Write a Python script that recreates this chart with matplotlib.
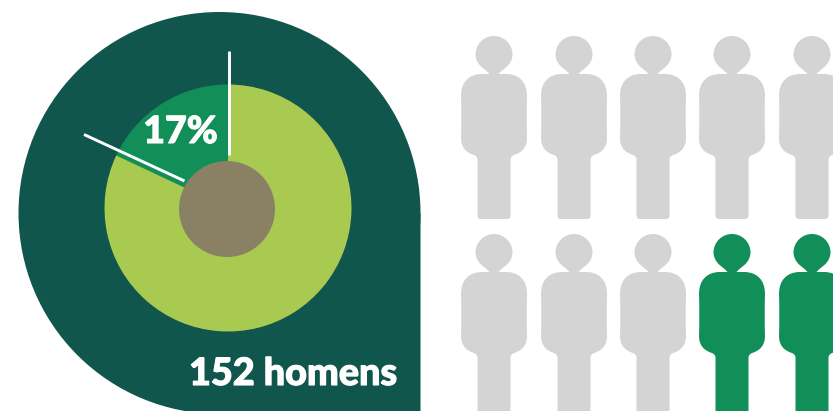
import matplotlib
matplotlib.use("Agg")
import matplotlib.pyplot as plt
import matplotlib.patheffects as pe
from matplotlib.path import Path
from matplotlib.patches import PathPatch, Circle, Rectangle

W, H = 833, 411

# Data
slice_labels = ["homens", "restante"]
slice_values = [18, 82]          # angular share as drawn
pct_label = "17%"
count_label = "152 homens"
row_top_highlight = [0, 0, 0, 0, 0]
row_bottom_highlight = [0, 0, 0, 1, 1]

# Styles
DARK, LIGHT, GREEN, BROWN, GREY = "#11564C", "#A9CA51", "#128F58", "#8A8165", "#D4D4D4"
FONT = ["Lato", "Open Sans", "DejaVu Sans"]

column_x = [494, 574, 653, 732, 812]
row_top_y = [36, 234]


def Y(py):
    return H - py


def person(cx, top):
    C4, CL, MT, LT = Path.CURVE4, Path.CLOSEPOLY, Path.MOVETO, Path.LINETO
    r = 18.5
    k = 0.5523 * r
    hc = 18.5
    verts, codes = [], []

    def add(x, y, code):
        verts.append((cx + x, Y(top + y)))
        codes.append(code)

    def curve(x1, y1, x2, y2, x3, y3):
        add(x1, y1, C4); add(x2, y2, C4); add(x3, y3, C4)

    # head (round, tapering only just above the neck)
    add(0, 0, MT)
    curve(k, 0, r, hc - k, r, hc)
    curve(r, hc + 5, 16, hc + 9, 13, hc + 12)
    curve(9.5, hc + 15, 5.5, hc + 17.5, 4, 39)
    add(-4, 39, LT)
    curve(-5.5, hc + 17.5, -9.5, hc + 15, -13, hc + 12)
    curve(-16, hc + 9, -r, hc + 5, -r, hc)
    curve(-r, hc - k, -k, 0, 0, 0)
    add(0, 0, CL)
    # torso with legs
    add(-12, 38, MT)
    add(12, 38, LT)
    curve(25, 38, 33, 46, 33, 60)
    curve(32.6, 72, 32.6, 90, 33, 102)
    curve(33, 112, 27, 117, 20, 119)
    curve(18, 120, 16.5, 121, 16.5, 124)
    add(16.5, 179, LT)
    curve(16.5, 182, 15, 183, 13, 183)
    add(-13, 183, LT)
    curve(-15, 183, -16.5, 182, -16.5, 179)
    add(-16.5, 124, LT)
    curve(-16.5, 121, -18, 120, -20, 119)
    curve(-27, 117, -33, 112, -33, 102)
    curve(-32.6, 90, -32.6, 72, -33, 60)
    curve(-33, 46, -25, 38, -12, 38)
    add(-12, 38, CL)
    return Path(verts, codes)


fig = plt.figure(figsize=(W / 100, H / 100), dpi=100, facecolor="white")
ax = fig.add_axes([0, 0, 1, 1])

# Drop-shaped backdrop
ax.add_patch(Circle((219.5, Y(213)), 201, fc=DARK, ec="none", zorder=1))
ax.add_patch(Rectangle((219.5, Y(415)), 201, 202, fc=DARK, ec="none", zorder=1, snap=False))

# Donut
ax.pie(slice_values, colors=[GREEN, LIGHT], startangle=90, counterclock=True,
       center=(228, Y(208)), radius=123.5,
       wedgeprops=dict(linewidth=0))
for w in ax.patches[-2:]:
    w.set_zorder(2)
ax.add_patch(Circle((227, Y(209)), 48, fc=BROWN, ec="none", zorder=3))

# Leader lines
ax.plot([229.5, 229.5], [Y(51), Y(155)], color="white", lw=2.1, zorder=4, solid_capstyle="butt")
ax.plot([84, 184.5], [Y(134.5), Y(181)], color="white", lw=2.1, zorder=4, solid_capstyle="butt")

# Text
stroke = [pe.withStroke(linewidth=0.8, foreground="white")]
ax.text(180.5, Y(132), pct_label, color="white", fontsize=27, fontweight="black",
        family=FONT, ha="center", va="center", zorder=5, path_effects=stroke)
ax.text(293, Y(374), count_label, color="white", fontsize=27.2, fontweight="black",
        family=FONT, ha="center", va="center", zorder=5, path_effects=stroke)

# Pictogram
for top, flags in zip(row_top_y, [row_top_highlight, row_bottom_highlight]):
    for cx, flag in zip(column_x, flags):
        ax.add_patch(PathPatch(person(cx, top), fc=GREEN if flag else GREY, ec="none", zorder=2))

ax.set_aspect("auto")
ax.set_xlim(0, W)
ax.set_ylim(0, H)
ax.axis("off")
fig.savefig("out.png", dpi=100, facecolor="white")
